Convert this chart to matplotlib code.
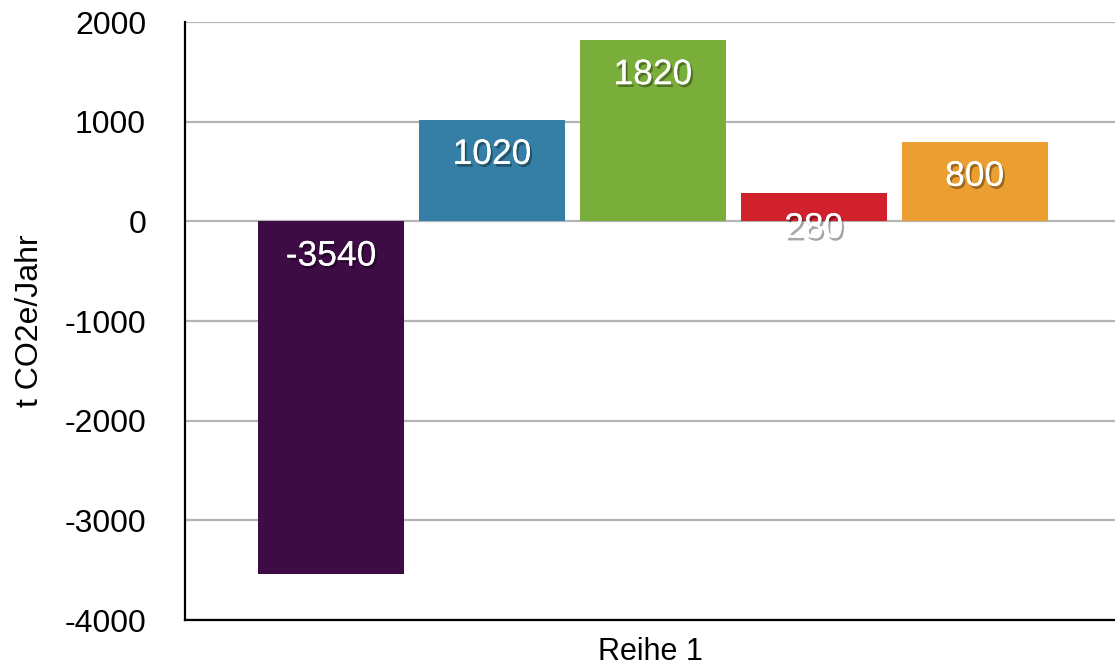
import matplotlib
matplotlib.use("Agg")
from matplotlib import pyplot as plt
import matplotlib.patheffects as pe
import numpy as np

plt.rcParams["font.family"] = ["Liberation Sans", "DejaVu Sans"]

# Werte je Posten (t CO2e/Jahr)
werte = [-3540, 1020, 1820, 280, 800]
farben = ["#3d0c45", "#357fa6", "#7aae3b", "#d1212d", "#eb9f31"]
kategorie = "Reihe 1"
yticks = [-4000, -3000, -2000, -1000, 0, 1000, 2000]

fig = plt.figure(figsize=(11.15, 6.67), dpi=100)
ax = fig.add_axes([185 / 1115, 47 / 667, 930 / 1115, 598 / 667])

breite = 0.157
schritt = 0.173
xs = (np.arange(len(werte)) - (len(werte) - 1) / 2) * schritt + 0.003

schatten = [pe.withSimplePatchShadow(offset=(1.5, -2), shadow_rgbFace="black", alpha=0.35),
            pe.Normal()]

for x, w, c in zip(xs, werte, farben):
    ax.bar(x, w, width=breite, color=c, zorder=3)
    oben = max(w, 0)
    ax.annotate(str(w), (x, oben), xytext=(0, -25), textcoords="offset points",
                ha="center", va="center", color="white", fontsize=25.5, zorder=5,
                path_effects=schatten)

ax.set_xlim(-0.5, 0.5)
ax.set_ylim(-4000, 2000)
ax.set_yticks(yticks)
ax.set_yticklabels([str(t) for t in yticks], fontsize=23)
ax.set_xticks([0])
ax.set_xticklabels([kategorie], fontsize=22)
ax.tick_params(axis="y", length=0, pad=28)
ax.tick_params(axis="x", length=0, pad=12)

ax.yaxis.grid(True, color="#b4b4b4", linewidth=1.6, zorder=0)
ax.set_axisbelow(True)

for s in ["top", "right"]:
    ax.spines[s].set_visible(False)
for s in ["left", "bottom"]:
    ax.spines[s].set_linewidth(1.6)
    ax.spines[s].set_color("black")

ax.set_ylabel("t CO2e/Jahr", fontsize=23, labelpad=14)

fig.savefig("out.png", dpi=100)
